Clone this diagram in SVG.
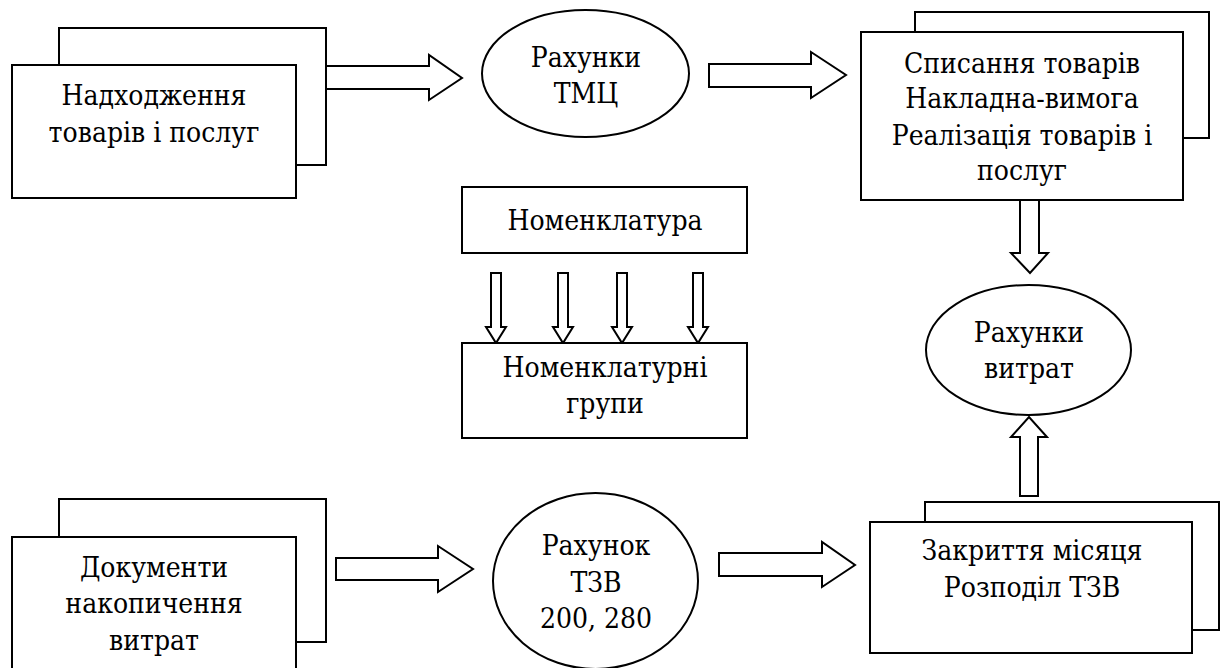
<svg xmlns="http://www.w3.org/2000/svg" width="1224" height="668" viewBox="0 0 1224 668">
  <style>
    .box { fill: #ffffff; stroke: #000000; stroke-width: 2; }
    .arrow { fill: #ffffff; stroke: #000000; stroke-width: 2; stroke-linejoin: miter; }
    .lbl { font-family: "DejaVu Serif Condensed", "DejaVu Serif", "Liberation Serif", serif; font-stretch: condensed; font-size: 28px; fill: #000000; text-anchor: middle; }
  </style>
  <rect width="1224" height="668" fill="#ffffff"/>

  <!-- block arrows -->
  <g id="connectors">
    <polygon class="arrow" points="326,66 429,66 429,55 462,78 429,100 429,89 326,89"/>
    <polygon class="arrow" points="709,64 811,64 811,52 846,75 811,98 811,87 709,87"/>
    <polygon class="arrow" points="336,558 438,558 438,546 473,569 438,592 438,580 336,580"/>
    <polygon class="arrow" points="719,553 822,553 822,542 855,565 822,587 822,576 719,576"/>
    <polygon class="arrow" points="1020,200 1039,200 1039,253 1048,253 1030,273 1011,253 1020,253"/>
    <polygon class="arrow" points="1020,496 1038,496 1038,437 1047,437 1029,417 1011,437 1020,437"/>
    <polygon class="arrow" points="491,273 501,273 501,327 506,327 496,343 486,327 491,327"/>
    <polygon class="arrow" points="558,273 568,273 568,327 573,327 563,343 553,327 558,327"/>
    <polygon class="arrow" points="617,273 627,273 627,327 632,327 622,343 612,327 617,327"/>
    <polygon class="arrow" points="693,273 703,273 703,327 708,327 698,343 688,327 693,327"/>
  </g>

  <!-- incoming goods documents -->
  <g id="receipts">
    <rect class="box" x="59" y="28" width="267" height="137"/>
    <rect class="box" x="12" y="65" width="284" height="133"/>
    <text class="lbl" x="154" y="105">Надходження</text>
    <text class="lbl" x="154" y="142">товарів і послуг</text>
  </g>

  <g id="inventory-accounts">
    <ellipse class="box" cx="585.5" cy="73.5" rx="103.5" ry="63.5"/>
    <text class="lbl" x="586" y="67">Рахунки</text>
    <text class="lbl" x="586" y="103">ТМЦ</text>
  </g>

  <g id="write-off">
    <rect class="box" x="915" y="12" width="294" height="126"/>
    <rect class="box" x="861" y="32" width="322" height="168"/>
    <text class="lbl" x="1022" y="73">Списання товарів</text>
    <text class="lbl" x="1022" y="108">Накладна-вимога</text>
    <text class="lbl" x="1022" y="145">Реалізація товарів і</text>
    <text class="lbl" x="1022" y="180">послуг</text>
  </g>

  <g id="nomenclature">
    <rect class="box" x="462" y="187" width="285" height="66"/>
    <text class="lbl" x="605" y="230">Номенклатура</text>
  </g>

  <g id="nomenclature-groups">
    <rect class="box" x="462" y="343" width="285" height="95"/>
    <text class="lbl" x="605" y="377">Номенклатурні</text>
    <text class="lbl" x="605" y="413">групи</text>
  </g>

  <g id="cost-accounts">
    <ellipse class="box" cx="1028.5" cy="350" rx="102.5" ry="65"/>
    <text class="lbl" x="1029" y="342">Рахунки</text>
    <text class="lbl" x="1029" y="378">витрат</text>
  </g>

  <g id="cost-documents">
    <rect class="box" x="59" y="499" width="267" height="143"/>
    <rect class="box" x="12" y="537" width="284" height="140"/>
    <text class="lbl" x="154" y="577">Документи</text>
    <text class="lbl" x="154" y="613">накопичення</text>
    <text class="lbl" x="154" y="650">витрат</text>
  </g>

  <g id="tzv-account">
    <ellipse class="box" cx="595.5" cy="581" rx="102.5" ry="88"/>
    <text class="lbl" x="596" y="555">Рахунок</text>
    <text class="lbl" x="596" y="592">ТЗВ</text>
    <text class="lbl" x="596" y="628">200, 280</text>
  </g>

  <g id="month-close">
    <rect class="box" x="925" y="502" width="294" height="128"/>
    <rect class="box" x="870" y="522" width="322" height="131"/>
    <text class="lbl" x="1032" y="560">Закриття місяця</text>
    <text class="lbl" x="1032" y="597">Розподіл ТЗВ</text>
  </g>
</svg>
